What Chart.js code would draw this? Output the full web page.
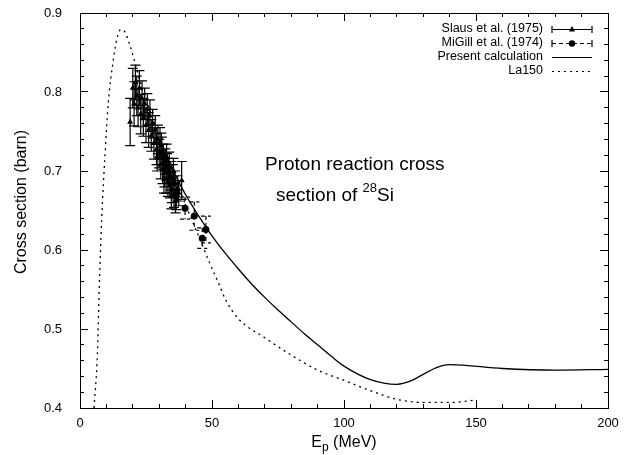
<!DOCTYPE html>
<html>
<head>
<meta charset="utf-8">
<script src="https://cdn.jsdelivr.net/npm/chart.js@4"></script>
<style>
  html, body { margin: 0; padding: 0; background: #fff; }
  #wrap { width: 631px; height: 455px; }
</style>
</head>
<body>
<div id="wrap"><canvas id="xsChart" width="631" height="455"></canvas></div>
<script>
// Slaus et al. (1975): energy, cross section, error
const slausE = [19.0, 20.0, 20.5, 21.0, 21.5, 22.0, 22.5, 23.0, 23.5, 24.0, 24.5, 25.0, 25.5, 26.0, 26.5,
  27.0, 27.5, 28.0, 28.5, 29.0, 29.5, 30.0, 30.3, 30.6, 31.0, 31.3, 31.6, 32.0, 32.3, 32.6, 33.0,
  33.3, 33.6, 34.0, 34.4, 34.8, 35.2, 35.6, 36.0, 36.5, 37.0, 38.5,
  29.2, 30.8, 31.8, 32.8, 33.8, 34.6, 35.4, 36.2, 37.4];
const slausXS = [0.762, 0.805, 0.785, 0.812, 0.795, 0.780, 0.805, 0.772, 0.792, 0.768, 0.785, 0.758, 0.778, 0.752, 0.770,
  0.745, 0.760, 0.735, 0.752, 0.728, 0.740, 0.722, 0.735, 0.708, 0.725, 0.702, 0.718, 0.698, 0.712, 0.690, 0.706,
  0.686, 0.700, 0.682, 0.694, 0.676, 0.690, 0.670, 0.684, 0.666, 0.678, 0.688,
  0.718, 0.732, 0.690, 0.718, 0.708, 0.668, 0.700, 0.662, 0.672];
const slausErr = [0.030, 0.025, 0.028, 0.022, 0.025, 0.024, 0.022, 0.025, 0.022, 0.024, 0.020, 0.022, 0.020, 0.022, 0.020,
  0.020, 0.018, 0.020, 0.018, 0.020, 0.018, 0.018, 0.020, 0.018, 0.018, 0.018, 0.016, 0.018, 0.016, 0.018, 0.016,
  0.018, 0.016, 0.016, 0.018, 0.016, 0.018, 0.016, 0.016, 0.015, 0.016, 0.024,
  0.018, 0.016, 0.018, 0.016, 0.016, 0.016, 0.016, 0.015, 0.016];

// MiGill et al. (1974)
const migillE = [39.8, 43.3, 46.3, 47.7];
const migillXS = [0.653, 0.643, 0.615, 0.626];
const migillErr = [0.014, 0.018, 0.013, 0.017];

// Present calculation
const calcE = [30, 35, 40, 45, 50, 55, 60, 65, 70, 75, 80, 85, 90, 95, 100, 110, 120, 140, 160, 180, 200];
const calcXS = [0.735, 0.702, 0.670, 0.643, 0.618, 0.596, 0.576, 0.557, 0.540, 0.524, 0.509, 0.494, 0.480, 0.466,
  0.453, 0.436, 0.430, 0.455, 0.450, 0.448, 0.449];

// La150 evaluation
const la150E = [5.3, 6.6, 7.3, 8.2, 9.5, 10.7, 12.6, 14, 15.4, 17, 19, 21, 23, 25, 30, 35, 40, 45.5, 49.2, 53,
  55, 60, 70, 80, 90, 100, 110, 120, 130, 140, 150];
const la150XS = [0.400, 0.469, 0.553, 0.638, 0.722, 0.786, 0.840, 0.868, 0.879, 0.876, 0.858, 0.835, 0.810, 0.790,
  0.745, 0.700, 0.657, 0.613, 0.583, 0.554, 0.538, 0.513, 0.489, 0.467, 0.448, 0.435, 0.422, 0.411, 0.407, 0.407, 0.410];

const xTicks = [0, 50, 100, 150, 200];
const xMinorTicks = [0, 10, 20, 30, 40, 50, 60, 70, 80, 90, 100, 110, 120, 130, 140, 150, 160, 170, 180, 190, 200];
const yTicks = [0.4, 0.5, 0.6, 0.7, 0.8, 0.9];
const yMinorTicks = [0.4, 0.42, 0.44, 0.46, 0.48, 0.5, 0.52, 0.54, 0.56, 0.58, 0.6, 0.62, 0.64, 0.66, 0.68,
  0.7, 0.72, 0.74, 0.76, 0.78, 0.8, 0.82, 0.84, 0.86, 0.88, 0.9];
const legendLabels = ["Slaus et al. (1975)", "MiGill et al. (1974)", "Present calculation", "La150"];

const FONT = "'Liberation Sans', Arial, Helvetica, sans-serif";

function toPoints(xs, ys) {
  return xs.map((x, i) => ({ x: x, y: ys[i] }));
}

// axis builder: ticks point inward (negative length), extra axes take no room
function axis(opts) {
  const horizontal = opts.position === "bottom" || opts.position === "top";
  return {
    type: "linear",
    position: opts.position,
    min: opts.min,
    max: opts.max,
    weight: opts.weight || 0,
    afterBuildTicks: s => { s.ticks = opts.ticks.map(v => ({ value: v })); },
    afterFit: s => {
      if (horizontal) { s.height = opts.size || 0; s.paddingLeft = 0; s.paddingRight = 0; }
      else { s.width = opts.size || 0; s.paddingTop = 0; s.paddingBottom = 0; }
    },
    border: { display: !!opts.border, color: "#000", width: 1 },
    grid: {
      display: true,
      drawOnChartArea: false,
      drawTicks: true,
      tickLength: -opts.tick,
      tickColor: "#000",
      tickWidth: 1,
      color: "#000"
    },
    ticks: opts.labels ? {
      display: true,
      padding: opts.pad,
      color: "#000",
      font: { family: FONT, size: 13 },
      callback: opts.fmt
    } : { display: false }
  };
}

// error bars drawn through the chart scales
const errorBars = {
  id: "errorBars",
  afterDatasetsDraw(chart) {
    const c = chart.ctx;
    const xs = chart.scales.x, ys = chart.scales.y;
    chart.data.datasets.forEach(ds => {
      if (!ds.errors) return;
      c.save();
      c.strokeStyle = "#000";
      c.lineWidth = 1.2;
      c.setLineDash(ds.errDash || []);
      ds.data.forEach((p, i) => {
        const px = xs.getPixelForValue(p.x);
        const top = ys.getPixelForValue(p.y + ds.errors[i]);
        const bot = ys.getPixelForValue(p.y - ds.errors[i]);
        c.beginPath();
        c.moveTo(px, top); c.lineTo(px, bot);
        c.moveTo(px - 5, top); c.lineTo(px + 5, top);
        c.moveTo(px - 5, bot); c.lineTo(px + 5, bot);
        c.stroke();
      });
      c.restore();
    });
  }
};

// titles, annotation, legend
const decorations = {
  id: "decorations",
  afterDraw(chart) {
    const c = chart.ctx;
    const xs = chart.scales.x;
    const mid = (xs.getPixelForValue(0) + xs.getPixelForValue(200)) / 2;
    c.save();
    c.fillStyle = "#000";

    // y title
    c.save();
    c.translate(22, 202);
    c.rotate(-Math.PI / 2);
    c.font = "16px " + FONT;
    c.textAlign = "center";
    c.textBaseline = "middle";
    c.fillText("Cross section (barn)", 0, 0);
    c.restore();

    // x title with subscript
    c.textBaseline = "alphabetic";
    c.textAlign = "left";
    c.font = "16px " + FONT;
    const wE = c.measureText("E").width;
    const wRest = c.measureText(" (MeV)").width;
    c.font = "12px " + FONT;
    const wp = c.measureText("p").width;
    const tx = mid - (wE + wp + wRest) / 2;
    c.font = "16px " + FONT;
    c.fillText("E", tx, 447);
    c.font = "12px " + FONT;
    c.fillText("p", tx + wE, 451);
    c.font = "16px " + FONT;
    c.fillText(" (MeV)", tx + wE + wp, 447);

    // annotation
    c.font = "19px " + FONT;
    c.fillText("Proton reaction cross", 265, 170);
    const s1 = "section of ";
    c.fillText(s1, 276, 201);
    let sx = 276 + c.measureText(s1).width;
    c.font = "13px " + FONT;
    c.fillText("28", sx, 192);
    sx += c.measureText("28").width;
    c.font = "19px " + FONT;
    c.fillText("Si", sx, 201);

    // legend
    c.font = "12.5px " + FONT;
    c.textAlign = "right";
    c.textBaseline = "middle";
    c.strokeStyle = "#000";
    const rows = [29, 43, 57, 71];
    const x0 = 552, x1 = 592, xm = 572;
    legendLabels.forEach((label, i) => {
      const y = rows[i];
      c.fillText(label, 543, y);
      c.lineWidth = 1.2;
      c.setLineDash(i === 1 ? [4, 3] : i === 3 ? [2, 4] : []);
      c.beginPath();
      c.moveTo(x0, y + 0.5); c.lineTo(x1, y + 0.5);
      c.stroke();
      c.setLineDash([]);
      if (i < 2) {
        c.beginPath();
        c.moveTo(x0, y - 3); c.lineTo(x0, y + 4);
        c.moveTo(x1, y - 3); c.lineTo(x1, y + 4);
        c.stroke();
      }
      if (i === 0) {
        c.beginPath();
        c.moveTo(xm, y - 3); c.lineTo(xm + 3, y + 2.5); c.lineTo(xm - 3, y + 2.5);
        c.closePath(); c.fill();
      } else if (i === 1) {
        c.beginPath();
        c.arc(xm, y + 0.5, 3.2, 0, Math.PI * 2);
        c.fill();
      }
    });
    c.restore();
  }
};

const chartCtx = document.getElementById("xsChart").getContext("2d");
new Chart(chartCtx, {
  type: "scatter",
  data: {
    datasets: [
      {
        label: legendLabels[0],
        data: toPoints(slausE, slausXS),
        errors: slausErr,
        showLine: false,
        pointStyle: "triangle",
        pointRadius: 3.5,
        backgroundColor: "#000",
        borderColor: "#000",
        borderWidth: 0
      },
      {
        label: legendLabels[1],
        data: toPoints(migillE, migillXS),
        errors: migillErr,
        errDash: [4, 3],
        showLine: false,
        pointStyle: "circle",
        pointRadius: 3.5,
        backgroundColor: "#000",
        borderColor: "#000",
        borderWidth: 0
      },
      {
        label: legendLabels[2],
        data: toPoints(calcE, calcXS),
        showLine: true,
        pointRadius: 0,
        borderColor: "#000",
        borderWidth: 1.3,
        cubicInterpolationMode: "monotone"
      },
      {
        label: legendLabels[3],
        data: toPoints(la150E, la150XS),
        showLine: true,
        pointRadius: 0,
        borderColor: "#000",
        borderWidth: 1.3,
        borderDash: [2, 4],
        cubicInterpolationMode: "monotone"
      }
    ]
  },
  options: {
    responsive: false,
    animation: false,
    layout: { padding: { top: 13, right: 23, left: 0, bottom: 0 } },
    plugins: {
      legend: { display: false },
      tooltip: { enabled: false }
    },
    scales: {
      x: axis({ position: "bottom", min: 0, max: 200, weight: 1, ticks: xTicks, tick: 8, border: true,
        size: 47, labels: true, pad: 16, fmt: v => String(v) }),
      xMinor: axis({ position: "bottom", min: 0, max: 200, ticks: xMinorTicks, tick: 4 }),
      xTop: axis({ position: "top", min: 0, max: 200, weight: 1, ticks: xTicks, tick: 8, border: true }),
      xTopMinor: axis({ position: "top", min: 0, max: 200, ticks: xMinorTicks, tick: 4 }),
      y: axis({ position: "left", min: 0.4, max: 0.9, weight: 1, ticks: yTicks, tick: 8, border: true,
        size: 80, labels: true, pad: 26, fmt: v => v.toFixed(1) }),
      yMinor: axis({ position: "left", min: 0.4, max: 0.9, ticks: yMinorTicks, tick: 4 }),
      yRight: axis({ position: "right", min: 0.4, max: 0.9, weight: 1, ticks: yTicks, tick: 8, border: true }),
      yRightMinor: axis({ position: "right", min: 0.4, max: 0.9, ticks: yMinorTicks, tick: 4 })
    }
  },
  plugins: [errorBars, decorations]
});
</script>
</body>
</html>
